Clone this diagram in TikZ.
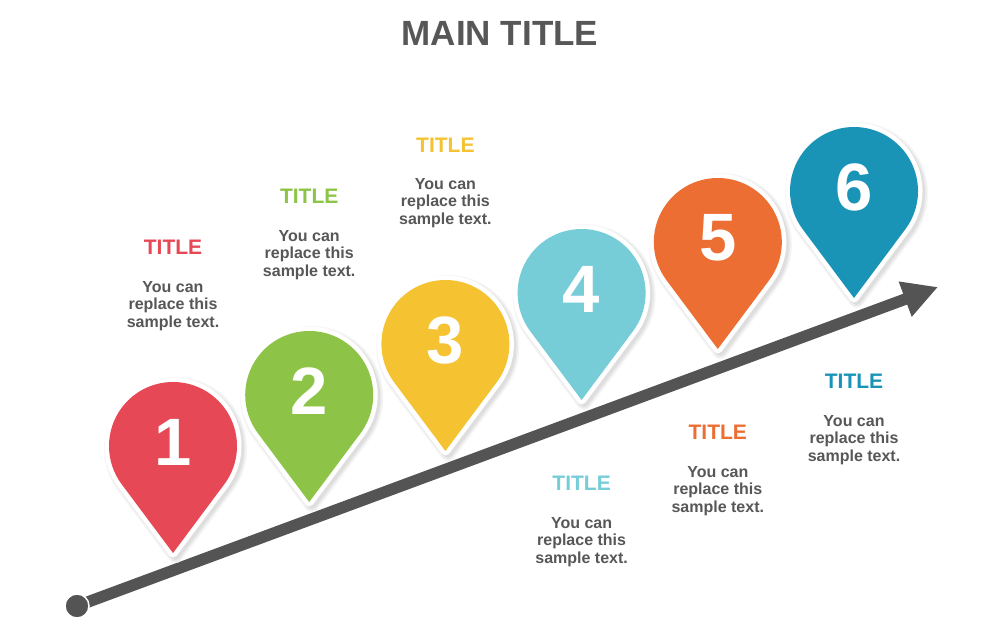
\documentclass[tikz,border=0pt]{standalone}
\usepackage{fontspec}
\setmainfont{Liberation Sans}
\usetikzlibrary{arrows.meta}
\definecolor{cA}{HTML}{E64856}
\definecolor{cB}{HTML}{8DC447}
\definecolor{cC}{HTML}{F5C232}
\definecolor{cD}{HTML}{76CDD7}
\definecolor{cE}{HTML}{ED6E32}
\definecolor{cF}{HTML}{1A94B6}
\definecolor{txtgray}{HTML}{575757}
\definecolor{arrowgray}{HTML}{545454}
\newcommand{\pinshape}[2]{(#1,#2-107) -- ([shift={(#1,#2)}]-36.7:64) arc[start angle=-36.7,end angle=216.7,radius=64] -- cycle}
\begin{document}
\begin{tikzpicture}[x=1pt,y=1pt,
  pinnum/.style={text=white,font=\fontsize{67}{67}\selectfont\bfseries,inner sep=0},
  ttl/.style={font=\fontsize{21}{21}\selectfont\bfseries,inner sep=0},
  body/.style={font=\fontsize{16}{17.5}\selectfont\bfseries,text=txtgray,align=center,inner sep=0},
  maintitle/.style={font=\fontsize{35}{35}\selectfont\bfseries,text=txtgray,inner sep=0}]
\useasboundingbox (0,0) rectangle (1000,633);
\fill[white] (0,0) rectangle (1000,633);
% title
\node[maintitle] (mt) at (500,600) {MAIN TITLE};
% arrow
\node[circle,fill=arrowgray,draw=white,line width=1.5pt,minimum size=24pt,inner sep=0] (s) at (77,27) {};
\coordinate (e) at (938,346);
\draw[arrowgray,line width=11.5pt,-{Triangle[width=35pt,length=35pt]}] (s.center) -- (e);
\node[circle,fill=arrowgray,draw=white,line width=1.5pt,minimum size=24pt,inner sep=0] at (s) {};
% shadows
\foreach \i in {1,...,6}{
  \pgfmathsetmacro\px{173+136.2*(\i-1)+2.5}
  \pgfmathsetmacro\py{187+51*(\i-1)-2.5}
  \foreach \sh/\lw in {black!4/15,black!8/12,black!13/9}{
    \filldraw[fill=\sh,draw=\sh,line width=\lw pt,line join=round] \pinshape{\px}{\py};
  }
}
% pins
\foreach \i/\c in {1/cA,2/cB,3/cC,4/cD,5/cE,6/cF}{
  \pgfmathsetmacro\px{173+136.2*(\i-1)}
  \pgfmathsetmacro\py{187+51*(\i-1)}
  \draw[white,fill=white,line width=9pt,line join=round] \pinshape{\px}{\py};
  \fill[\c] \pinshape{\px}{\py};
  \node[pinnum] (n\i) at (\px,\py+4) {\i};
}
% texts
\node[ttl,text=cA] (t1) at (173,386) {TITLE};
\node[body] (b1) at (173,327) {You can\\replace this\\sample text.};
\node[ttl,text=cB] (t2) at (309.2,437) {TITLE};
\node[body] (b2) at (309.2,378) {You can\\replace this\\sample text.};
\node[ttl,text=cC] (t3) at (445.4,488) {TITLE};
\node[body] (b3) at (445.4,430) {You can\\replace this\\sample text.};
\node[ttl,text=cD] (t4) at (581.6,150) {TITLE};
\node[body] (b4) at (581.6,91) {You can\\replace this\\sample text.};
\node[ttl,text=cE] (t5) at (717.8,201) {TITLE};
\node[body] (b5) at (717.8,142) {You can\\replace this\\sample text.};
\node[ttl,text=cF] (t6) at (854,252) {TITLE};
\node[body] (b6) at (854,193) {You can\\replace this\\sample text.};
\end{tikzpicture}
\end{document}
